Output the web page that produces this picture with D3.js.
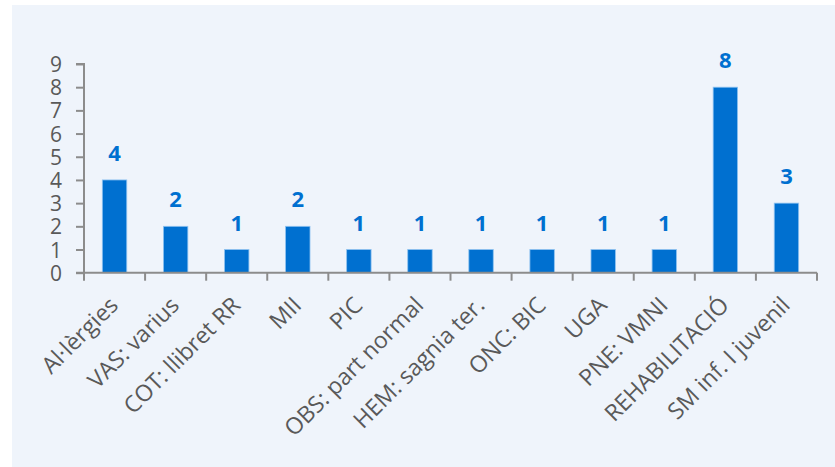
<!DOCTYPE html>
<html>
<head>
<meta charset="utf-8">
<script src="https://cdn.jsdelivr.net/npm/d3@7"></script>
<style>
  html, body { margin: 0; padding: 0; background: #ffffff; }
  svg { display: block; }
</style>
</head>
<body>
<svg id="chart" width="835" height="467"></svg>
<script>
// Consultations per service
const categories = [
  "Al·lèrgies", "VAS: varius", "COT: llibret RR", "MII", "PIC",
  "OBS: part normal", "HEM: sagnia ter.", "ONC: BIC", "UGA",
  "PNE: VMNI", "REHABILITACIÓ", "SM inf. I juvenil"
];
const values = [4, 2, 1, 2, 1, 1, 1, 1, 1, 1, 8, 3];
const yTicks = [0, 1, 2, 3, 4, 5, 6, 7, 8, 9];

const W = 835, H = 467;
const plot = { left: 84, right: 817, top: 64, bottom: 272.7 };

const svg = d3.select("#chart");

// panel background
svg.append("rect")
  .attr("x", 12).attr("y", 5)
  .attr("width", W - 12).attr("height", H - 5)
  .attr("fill", "#eff4fb");

const x = d3.scaleBand()
  .domain(categories)
  .range([plot.left, plot.right])
  .paddingInner(0.6)
  .paddingOuter(0.3);

const y = d3.scaleLinear()
  .domain([0, 9])
  .range([plot.bottom, plot.top]);

const axisColor = "#8c8c8c";
const textColor = "#595959";
const barColor = "#0070d0";
const font = "'Open Sans', sans-serif";

// bars
svg.append("g")
  .selectAll("rect")
  .data(values)
  .join("rect")
  .attr("x", (d, i) => x(categories[i]))
  .attr("y", d => y(d))
  .attr("width", x.bandwidth())
  .attr("height", d => y(0) - y(d))
  .attr("fill", barColor)
  .attr("stroke", "#8fc3f0")
  .attr("stroke-width", 0.8);

// value labels
svg.append("g")
  .selectAll("text")
  .data(values)
  .join("text")
  .attr("x", (d, i) => x(categories[i]) + x.bandwidth() / 2)
  .attr("y", d => y(d) - 19)
  .attr("text-anchor", "middle")
  .attr("font-family", font)
  .attr("font-weight", "bold")
  .attr("font-size", 22)
  .attr("fill", barColor)
  .text(d => d);

// y axis
const yAxis = svg.append("g")
  .attr("transform", `translate(${plot.left},0)`)
  .call(d3.axisLeft(y).tickValues(yTicks).tickSize(8).tickPadding(14).tickFormat(d3.format("d")));
yAxis.select(".domain").attr("stroke", axisColor).attr("stroke-width", 2)
  .attr("d", `M-8,${plot.top}H0V${plot.bottom}`);
yAxis.selectAll(".tick line").attr("stroke", axisColor).attr("stroke-width", 2);
yAxis.selectAll(".tick text")
  .attr("font-family", font)
  .attr("font-size", 21)
  .attr("dy", "0.36em")
  .attr("fill", textColor);

// x axis: ticks sit on category boundaries
const boundaries = d3.range(categories.length + 1).map(i => plot.left + i * x.step());
const xAxis = svg.append("g");
xAxis.append("line")
  .attr("x1", plot.left - 8).attr("x2", plot.right)
  .attr("y1", plot.bottom).attr("y2", plot.bottom)
  .attr("stroke", axisColor).attr("stroke-width", 2);
xAxis.selectAll("line.tk")
  .data(boundaries)
  .join("line")
  .attr("class", "tk")
  .attr("x1", d => d).attr("x2", d => d)
  .attr("y1", plot.bottom).attr("y2", plot.bottom + 8)
  .attr("stroke", axisColor).attr("stroke-width", 2);

// rotated category labels
xAxis.selectAll("text")
  .data(categories)
  .join("text")
  .attr("transform", d => `translate(${x(d) + x.bandwidth() / 2 + 5},${plot.bottom + 34}) rotate(-45)`)
  .attr("text-anchor", "end")
  .attr("font-family", font)
  .attr("font-size", 23)
  .attr("fill", textColor)
  .text(d => d);
</script>
</body>
</html>
